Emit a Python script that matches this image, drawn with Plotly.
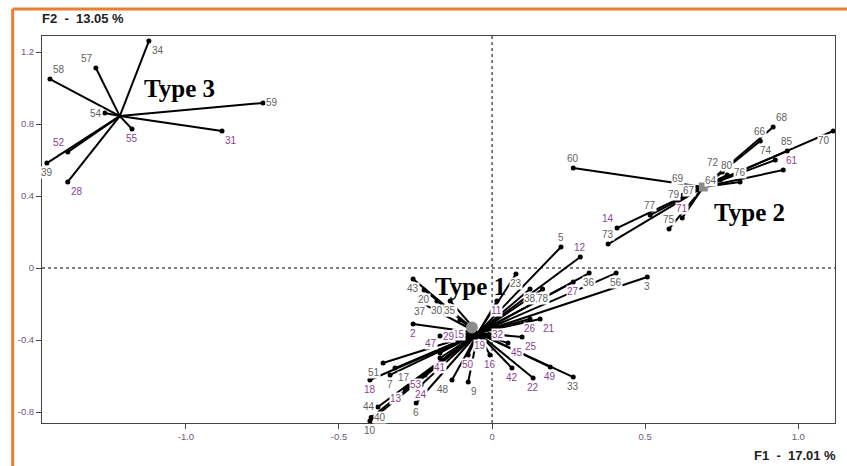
import plotly.graph_objects as go

# ---------------- data ----------------
type3_labels = ["34", "57", "58", "59", "54", "55", "31", "52", "39", "28"]
type3_x = [-1.121, -1.294, -1.444, -0.748, -1.265, -1.176, -0.882, -1.386, -1.454, -1.386]
type3_y = [1.261, 1.111, 1.050, 0.917, 0.861, 0.772, 0.761, 0.644, 0.583, 0.478]
type3_center = (-1.216, 0.844)

type2_labels = ["60", "68", "66", "70", "85", "74", "61", "76", "72", "80", "64", "69", "67",
                "79", "77", "75", "71", "14", "73"]
type2_x = [0.265, 0.918, 0.876, 1.114, 0.964, 0.925, 0.951, 0.810, 0.752, 0.768, 0.745, 0.637, 0.673,
           0.624, 0.516, 0.578, 0.621, 0.408, 0.379]
type2_y = [0.556, 0.783, 0.706, 0.761, 0.650, 0.600, 0.544, 0.478, 0.533, 0.517, 0.489, 0.444, 0.433,
           0.406, 0.294, 0.217, 0.278, 0.222, 0.133]
type2_center = (0.690, 0.450)

type1_labels = ["5", "12", "3", "56", "36", "27", "23", "38", "78", "11", "26", "21", "25", "45",
                "32", "19", "15", "49", "33", "22", "42", "16", "9", "50", "48", "41", "47", "29",
                "2", "46", "43", "20", "37", "30", "35", "51", "17", "7", "18", "13", "53", "24",
                "6", "44", "40", "10"]
type1_x = [0.225, 0.288, 0.507, 0.405, 0.317, 0.265, 0.078, 0.124, 0.165, 0.016, 0.124, 0.157, 0.098, 0.052,
           -0.010, -0.040, -0.080, 0.190, 0.265, 0.134, 0.065, -0.007, -0.078, -0.078, -0.131, -0.170, -0.170, -0.170,
           -0.258, -0.105, -0.258, -0.222, -0.235, -0.180, -0.137, -0.356, -0.317, -0.333, -0.399, -0.284, -0.219, -0.232,
           -0.248, -0.373, -0.395, -0.399]
type1_y = [0.117, 0.061, -0.050, -0.028, -0.028, -0.078, -0.033, -0.117, -0.117, -0.183, -0.283, -0.283, -0.383, -0.417,
           -0.370, -0.380, -0.370, -0.550, -0.606, -0.611, -0.556, -0.483, -0.633, -0.483, -0.622, -0.500, -0.472, -0.378,
           -0.311, -0.289, -0.061, -0.122, -0.189, -0.183, -0.183, -0.528, -0.556, -0.594, -0.622, -0.672, -0.594, -0.650,
           -0.750, -0.772, -0.830, -0.850]
type1_center = (-0.046, -0.361)

x_tick_vals = [-1.0, -0.5, 0, 0.5, 1.0]
x_tick_text = ["-1.0", "-0.5", "0", "0.5", "1.0"]
y_tick_vals = [-0.8, -0.4, 0, 0.4, 0.8, 1.2]
y_tick_text = ["-0.8", "-0.4", "0", "0.4", "0.8", "1.2"]

# ---------------- styles ----------------
POS = {
    "34": "bottom right", "57": "top left", "58": "top right", "59": "middle right", "54": "middle left",
    "55": "bottom center", "31": "bottom right", "52": "top left", "39": "bottom center", "28": "bottom right",
    "60": "top center", "68": "top right", "66": "top center", "70": "bottom left", "85": "top center",
    "74": "top left", "61": "top right", "76": "top center", "72": "top left", "80": "top center",
    "64": "middle left", "69": "top left", "67": "middle left", "79": "middle left", "77": "top center",
    "75": "top center", "71": "top center", "14": "top left", "73": "top center",
    "5": "top center", "12": "top center", "3": "bottom center", "56": "bottom center", "36": "bottom center",
    "27": "bottom center", "23": "bottom center", "38": "bottom center", "78": "bottom center",
    "11": "bottom center", "26": "bottom center", "21": "bottom right", "25": "bottom right",
    "45": "bottom right", "32": "middle right", "19": "bottom center", "15": "middle left",
    "49": "bottom center", "33": "bottom center", "22": "bottom center", "42": "bottom center",
    "16": "bottom center", "9": "bottom right", "50": "bottom center", "48": "bottom left",
    "41": "bottom center", "47": "top left", "29": "middle right", "2": "bottom center",
    "46": "top left", "43": "bottom center", "20": "bottom center", "37": "bottom center",
    "30": "bottom center", "35": "bottom center", "51": "bottom left", "17": "bottom right",
    "7": "bottom center", "18": "bottom center", "13": "bottom left", "53": "bottom left",
    "24": "bottom center", "6": "bottom center", "44": "middle left", "40": "middle right",
    "10": "bottom center",
}
PURPLE = {"55", "31", "52", "28", "61", "71", "14", "12", "27", "11", "26", "21", "25", "45", "32",
          "19", "15", "49", "22", "42", "16", "50", "41", "47", "29", "2", "18", "13", "53", "24"}
GRAY_TXT = "#62625a"
PURPLE_TXT = "#8a3f8e"

fig = go.Figure()


def add_group(labels, xs, ys, center):
    cx, cy = center
    lx, ly = [], []
    for x, y in zip(xs, ys):
        lx += [cx, x, None]
        ly += [cy, y, None]
    fig.add_trace(go.Scatter(x=lx, y=ly, mode="lines", line=dict(color="black", width=2),
                             hoverinfo="skip", showlegend=False))
    fig.add_trace(go.Scatter(x=xs, y=ys, mode="markers", marker=dict(color="black", size=5),
                             showlegend=False, cliponaxis=False))
    for l, x, y in zip(labels, xs, ys):
        pos = POS.get(l, "top center")
        vert, horiz = pos.split()
        xanchor = {"left": "right", "center": "center", "right": "left"}[horiz]
        yanchor = {"top": "bottom", "middle": "middle", "bottom": "top"}[vert]
        xshift = {"left": -2, "center": 0, "right": 2}[horiz]
        yshift = {"top": 3, "middle": 0, "bottom": -3}[vert]
        fig.add_annotation(x=x, y=y, text=l, showarrow=False, xanchor=xanchor, yanchor=yanchor,
                           xshift=xshift, yshift=yshift, bgcolor="white", borderpad=0,
                           font=dict(family="Liberation Sans, Arial", size=10,
                                     color=PURPLE_TXT if l in PURPLE else GRAY_TXT))


add_group(type3_labels, type3_x, type3_y, type3_center)
add_group(type2_labels, type2_x, type2_y, type2_center)
add_group(type1_labels, type1_x, type1_y, type1_center)

# centroids
fig.add_trace(go.Scatter(x=[type2_center[0]], y=[type2_center[1]], mode="markers",
                         marker=dict(color="#8c8c8c", size=9, symbol="square"), showlegend=False))
fig.add_trace(go.Scatter(x=[type1_center[0] - 0.02], y=[type1_center[1] + 0.03], mode="markers",
                         marker=dict(color="#8c8c8c", size=12, symbol="circle"), showlegend=False))

# zero lines (dotted)
fig.add_shape(type="line", x0=0, x1=0, y0=0, y1=1, xref="x", yref="paper", layer="below",
              line=dict(color="black", width=1, dash="dot"))
fig.add_shape(type="line", x0=0, x1=1, y0=0, y1=0, xref="paper", yref="y", layer="below",
              line=dict(color="black", width=1, dash="dot"))

# orange frame
fig.add_shape(type="line", xref="paper", yref="paper", x0=-0.037, x1=1.02, y0=1.07, y1=1.07,
              line=dict(color="#ED7D31", width=3))
fig.add_shape(type="line", xref="paper", yref="paper", x0=-0.037, x1=-0.037, y0=1.07, y1=-0.12,
              line=dict(color="#ED7D31", width=3))

# type labels
for txt, x, y in [("Type 3", -1.02, 1.0), ("Type 2", 0.84, 0.31), ("Type 1", -0.072, -0.105)]:
    fig.add_annotation(x=x, y=y, text="<b>" + txt + "</b>", showarrow=False,
                       font=dict(family="Liberation Serif, Times New Roman", size=25, color="black"))

# axis titles
fig.add_annotation(xref="paper", yref="paper", x=-0.003, y=1.02, xanchor="left", yanchor="bottom",
                   text="<b>F2  -  13.05 %</b>", showarrow=False,
                   font=dict(family="Liberation Sans, Arial", size=13, color="#222"))
fig.add_annotation(xref="paper", yref="paper", x=1.004, y=-0.06, xanchor="right", yanchor="top",
                   text="<b>F1  -  17.01 %</b>", showarrow=False,
                   font=dict(family="Liberation Sans, Arial", size=13, color="#222"))

fig.update_layout(
    width=847, height=466,
    margin=dict(l=42, r=12, t=36, b=43),
    paper_bgcolor="white", plot_bgcolor="white",
    xaxis=dict(range=[-1.47, 1.12], tickvals=x_tick_vals, ticktext=x_tick_text, showgrid=False,
               zeroline=False, showline=True, linecolor="#444", linewidth=1, mirror=True,
               ticks="outside", ticklen=5, tickcolor="#444",
               tickfont=dict(family="Liberation Sans, Arial", size=9.5, color="#6a5a7a")),
    yaxis=dict(range=[-0.861, 1.289], tickvals=y_tick_vals, ticktext=y_tick_text, showgrid=False,
               zeroline=False, showline=True, linecolor="#444", linewidth=1, mirror=True,
               ticks="outside", ticklen=5, tickcolor="#444",
               tickfont=dict(family="Liberation Sans, Arial", size=9.5, color="#6a5a7a")),
)

fig.write_html("out.html", config={"displayModeBar": False},
               post_script="document.body.style.margin='0';")
